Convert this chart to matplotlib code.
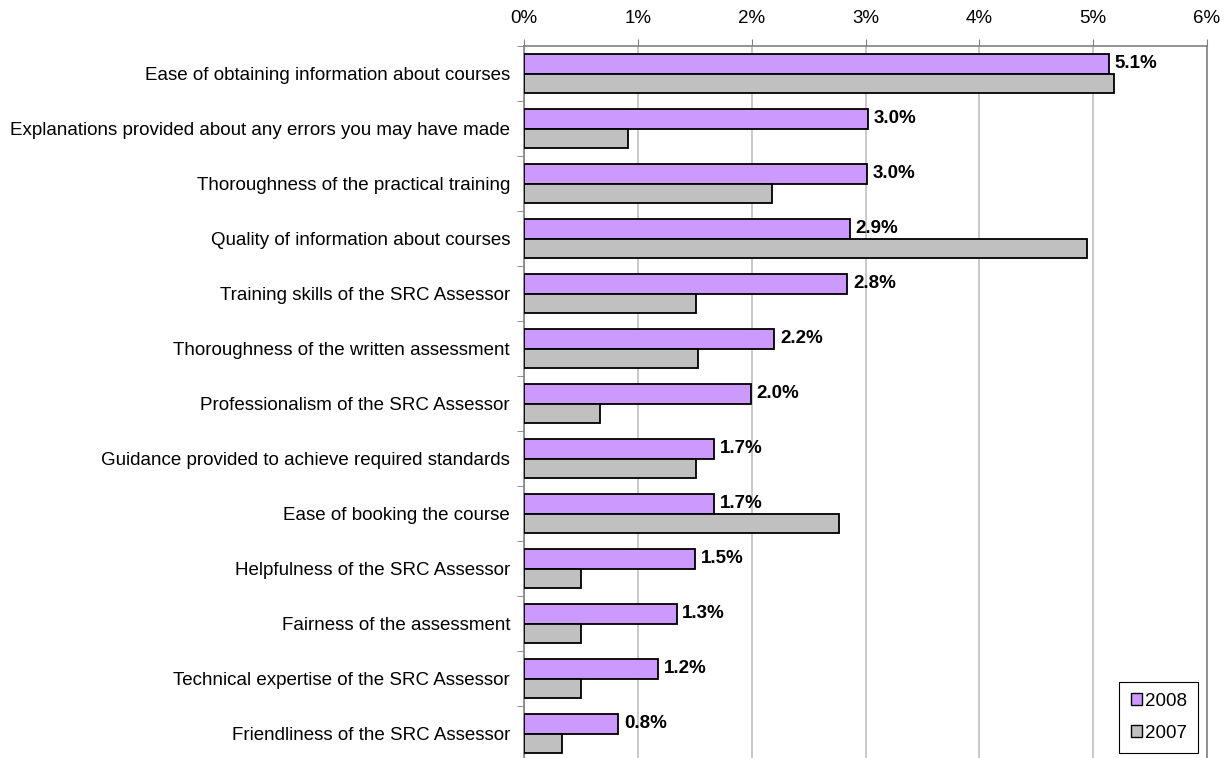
import numpy as np
import matplotlib.pyplot as plt
from matplotlib.ticker import FuncFormatter, MultipleLocator
from matplotlib.patches import Patch

plt.rcParams['font.family'] = ['Liberation Sans', 'DejaVu Sans']

categories = [
    'Ease of obtaining information about courses',
    'Explanations provided about any errors you may have made',
    'Thoroughness of the practical training',
    'Quality of information about courses',
    'Training skills of the SRC Assessor',
    'Thoroughness of the written assessment',
    'Professionalism of the SRC Assessor',
    'Guidance provided to achieve required standards',
    'Ease of booking the course',
    'Helpfulness of the SRC Assessor',
    'Fairness of the assessment',
    'Technical expertise of the SRC Assessor',
    'Friendliness of the SRC Assessor',
]
values_2008 = [5.14, 3.02, 3.01, 2.86, 2.84, 2.20, 1.99, 1.67, 1.67, 1.50, 1.34, 1.18, 0.83]
values_2007 = [5.18, 0.91, 2.18, 4.95, 1.51, 1.53, 0.67, 1.51, 2.77, 0.50, 0.50, 0.50, 0.33]
labels_2008 = ['5.1%', '3.0%', '3.0%', '2.9%', '2.8%', '2.2%', '2.0%',
               '1.7%', '1.7%', '1.5%', '1.3%', '1.2%', '0.8%']

purple = '#CC99FF'
grey = '#C0C0C0'
fs = 13.5

fig = plt.figure(figsize=(12.28, 7.58), dpi=100)
ax = fig.add_axes([524 / 1228, -3 / 758, (1207 - 524) / 1228, (758 - 46 + 3) / 758])

y = np.arange(len(categories))
h = 0.357
ax.barh(y - h / 2, values_2008, height=h, color=purple, edgecolor='black', linewidth=1.3, zorder=3)
ax.barh(y + h / 2, values_2007, height=h, color=grey, edgecolor='black', linewidth=1.3, zorder=3)

for yi, v, lab in zip(y, values_2008, labels_2008):
    ax.text(v + 0.05, yi - h / 2, lab, ha='left', va='center',
            fontsize=fs, fontweight='bold', zorder=4)

ax.set_xlim(0, 6)
ax.set_ylim(len(categories) - 0.5, -0.5)
ax.xaxis.set_major_locator(MultipleLocator(1))
ax.xaxis.set_major_formatter(FuncFormatter(lambda v, p: f'{v:.0f}%'))
ax.xaxis.tick_top()
ax.grid(axis='x', color='#C0C0C0', linewidth=1.2, zorder=0)

# category labels at centres, tick marks on category boundaries
ax.set_yticks(y)
ax.set_yticklabels(categories, fontsize=fs)
ax.set_yticks(np.arange(len(categories) + 1) - 0.5, minor=True)
ax.tick_params(axis='y', which='major', length=0, pad=10)
ax.tick_params(axis='y', which='minor', length=5, color='#808080', direction='out')
ax.tick_params(axis='x', length=5, color='#808080', labelsize=fs, pad=9)

for side in ['left', 'top', 'right']:
    ax.spines[side].set_color('#808080')
    ax.spines[side].set_linewidth(1.2)
ax.spines['bottom'].set_visible(False)

handles = [Patch(facecolor=purple, edgecolor='black', linewidth=1),
           Patch(facecolor=grey, edgecolor='black', linewidth=1)]
leg = fig.legend(handles, ['2008', '2007'], loc='lower right',
                 bbox_to_anchor=(1198 / 1228, 5 / 758), fontsize=fs,
                 handlelength=0.6, handleheight=0.6, handletextpad=0.15,
                 labelspacing=0.8, borderpad=0.6, borderaxespad=0,
                 fancybox=False, framealpha=1)
leg.get_frame().set_edgecolor('black')
leg.get_frame().set_linewidth(0.8)

fig.savefig('out.png', dpi=100)
